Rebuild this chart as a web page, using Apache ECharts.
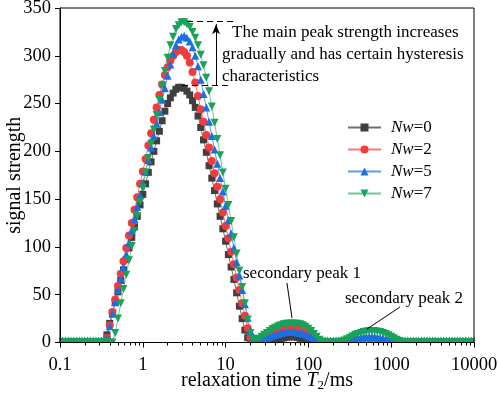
<!DOCTYPE html>
<html><head><meta charset="utf-8">
<script src="https://cdn.jsdelivr.net/npm/echarts@6/dist/echarts.min.js"></script>
<style>html,body{margin:0;padding:0;background:#fff}#c{width:498px;height:394px}</style>
</head><body><div id="c"></div>
<script>
// relaxation time T2 (ms), log-spaced sampling grid
const t2 = [
0.1,0.108,0.1166,0.1259,0.1359,0.1468,0.1585,0.1711,0.1848,0.1995,0.2154,0.2326,0.2512,0.2712,0.2929,0.3162,0.3415,0.3687,0.3981,0.4299,0.4642,0.5012,0.5412,0.5843,0.631,0.6813,0.7356,0.7943,0.8577,0.9261,
1,1.08,1.166,1.259,1.359,1.468,1.585,1.711,1.848,1.995,2.154,2.326,2.512,2.712,2.929,3.162,3.415,3.687,3.981,4.299,4.642,5.012,5.412,5.843,6.31,6.813,7.356,7.943,8.577,9.261,
10,10.8,11.66,12.59,13.59,14.68,15.85,17.11,18.48,19.95,21.54,23.26,25.12,27.12,29.29,31.62,34.15,36.87,39.81,42.99,46.42,50.12,54.12,58.43,63.1,68.13,73.56,79.43,85.77,92.61,
100,108,116.6,125.9,135.9,146.8,158.5,171.1,184.8,199.5,215.4,232.6,251.2,271.2,292.9,316.2,341.5,368.7,398.1,429.9,464.2,501.2,541.2,584.3,631,681.3,735.6,794.3,857.7,926.1,
1000,1080,1166,1259,1359,1468,1585,1711,1848,1995,2154,2326,2512,2712,2929,3162,3415,3687,3981,4299,4642,5012,5412,5843,6310,6813,7356,7943,8577,9261,
10000];

const nw0 = [
0,0,0,0,0,0,0,0,0,0, 0,0,0,0,0,0,
1,8,20,31,42,53,65,76,87,99,
110,121,132,144,155,166,178,189,200,211,
221,232,242,250,256,261,265,267,267,266,
263,259,253,246,237,225,212,199,185,172,
159,145,132,119,106,92,79,66,52,38,
25,13,5,1,
0,0,0,0,0,0,0,0,0,
2.3,3.6,4.7,5.5,5.9,6,5.8,5.3,4.4,3.3,1.8,
0,0,0,0,0,0,0,0,0,0, 0,0,0,0,0,0,0,0,0,0, 0,0,0,0,0,0,0,0,0,0,
0,0,0,0,0,0,0,0,0,0, 0,0,0,0,0,0,0,0,0,0, 0,0,0,0,0,0,0,0,0,0, 0];

const nw2 = [
0,0,0,0,0,0,0,0,0,0, 0,0,0,0,0,0,0,
5,18,32,45,59,72,85,99,112,125,
139,152,166,179,192,206,219,233,246,259,
270,280,288,295,300,304,306,306,304,300,
293,283,272,258,244,231,217,204,190,177,
163,150,136,122,109,95,82,68,55,41,
28,15,5,
3,3,3,4,5,7,9,10.5,12,13.5,
14.5,15.5,16,16,16,16,15.5,15,14,12.5,
10.5,8,5.5,3,1,
0,0,0,0,0,0,0,
0.5,1.5,2.5,3,3,3,2.5,1.5,0.5,
0,0,0,0,0,0,0,0,0,0, 0,0,0,0,0,0,0,0,0,0, 0,0,0,0,0,0,0,0,0,0, 0,0,0,0,0,0,0,0,0,0];

const nw5 = [
2,2,2,2,2,2,2,2,2,2, 2,2,2,2,2,2,2,
5,17,30,42,55,67,79,92,104,117,
129,142,154,167,179,191,204,216,229,241,
254,266,279,291,302,311,317,320,321,319,
315,309,300,289,275,260,246,231,216,202,
187,172,158,143,128,114,99,84,70,55,
40,26,12,
5,3,3,3,4,5,6,7,8,9,
10,10.5,11,11,11,11,10.5,10,9.5,8.5,
7,5.5,4,3,2.5,
2,2,2,2,2,2,
2,2,2.5,3,3.5,4,4.5,5,5.5,6,
6,6,6,6,5.5,5,4.5,4,3.5,3,2.5,
2,2,2,2,2,2,2,2,2,2, 2,2,2,2,2,2,2,2,2,2, 2,2,2,2,2,2,2,2,2];

const nw7 = [
0,0,0,0,0,0,0,0,0,0, 0,0,0,0,0,0,0,0,0,0,
10,25,41,56,71,86,101,117,132,147,
162,178,193,208,223,238,254,269,284,298,
311,320,328,332,335,335,333,330,325,319,
311,301,290,277,263,247,230,213,196,178,
161,144,127,110,93,75,58,41,24,10,
4,3,4,6,8,10,12,14,15.5,17,
18,19,19.5,20,20,20,19.5,19,18,16.5,
14.5,12,9,6,3,1,
0,0,0,0,0,
0.5,1,2,3.5,5,6.5,8,9,10,11,
11.5,12,12,12,11.5,11,10,9,7.5,6,
4.5,3,1.5,0.5,
0,0,0,0,0,0,0,0,0,0, 0,0,0,0,0,0,0,0,0,0, 0,0,0,0,0,0];

const seriesNames = ['Nw=0', 'Nw=2', 'Nw=5', 'Nw=7'];
const xTickLabels = ['0.1', '1', '10', '100', '1000', '10000'];
const yTickLabels = ['0', '50', '100', '150', '200', '250', '300', '350'];

const FONT = "'Liberation Serif','Times New Roman',serif";
const pairs = vals => t2.map((t, i) => [t, vals[i]]);

const minorPos = [];
for (let d = -1; d < 4; d++) for (let m = 2; m <= 9; m++) minorPos.push(d + Math.log10(m));

const styles = [
  { symbol: 'rect', size: 7, rot: 0, mk: '#3f3f3f', ln: '#707070' },
  { symbol: 'circle', size: 8, rot: 0, mk: '#f33b3b', ln: '#f47c7c' },
  { symbol: 'triangle', size: 8, rot: 0, mk: '#1b6fe0', ln: '#5c9bea' },
  { symbol: 'triangle', size: 8, rot: 180, mk: '#17a35a', ln: '#6cc898' }
];
const values = [nw0, nw2, nw5, nw7];

const series = seriesNames.map((name, i) => ({
  name, type: 'line', data: pairs(values[i]),
  symbol: styles[i].symbol, symbolSize: styles[i].size, symbolRotate: styles[i].rot,
  showSymbol: true, showAllSymbol: true,
  lineStyle: { color: styles[i].ln, width: 1 },
  itemStyle: { color: styles[i].mk },
  emphasis: { disabled: true },
  animation: false
}));

series[0].markLine = {
  silent: true, animation: false, symbol: ['none', 'none'],
  label: { show: false },
  lineStyle: { color: '#000', width: 1, type: 'solid' },
  itemStyle: { color: '#000' },
  emphasis: { disabled: true },
  data: [
    [{ coord: [3.42, 335.7], lineStyle: { type: [6, 4], color: '#000', width: 1 } }, { coord: [13.0, 335.7] }],
    [{ coord: [2.97, 269.4], lineStyle: { type: [6, 4], color: '#000', width: 1 } }, { coord: [10.7, 269.4] }],
    [{ coord: [7.66, 269.4], symbol: 'none' }, { coord: [7.66, 333], symbol: 'arrow', symbolSize: [6, 10] }],
    [{ coord: [55.1, 62.3] }, { coord: [63.4, 25.6] }],
    [{ coord: [1276, 37.1] }, { coord: [510, 14.1] }]
  ]
};

const txt = (x, y, text) => ({
  type: 'text', x, y, z: 20, silent: true,
  style: { text, fill: '#000', fontSize: 17, fontFamily: FONT, align: 'left', verticalAlign: 'middle' }
});

const option = {
  animation: false,
  backgroundColor: '#fff',
  grid: { left: 60, right: 24, top: 8, bottom: 51.5, containLabel: false, outerBoundsMode: 'none',
          show: true, borderColor: '#000', borderWidth: 1, z: 10 },
  legend: {
    orient: 'vertical', left: 342, top: 114, itemWidth: 33, itemHeight: 10, itemGap: 5,
    data: seriesNames, selectedMode: false,
    formatter: name => '{i|Nw}{n|' + name.slice(2) + '}',
    textStyle: {
      color: '#000', fontFamily: FONT, fontSize: 17,
      rich: {
        i: { fontStyle: 'italic', fontFamily: FONT, fontSize: 17, color: '#000', padding: [0, 0, 0, 5] },
        n: { fontFamily: FONT, fontSize: 17, color: '#000' }
      }
    }
  },
  xAxis: [
    {
      type: 'log', logBase: 10, min: 0.1, max: 10000, z: 10,
      axisLine: { show: true, onZero: false, lineStyle: { color: '#000', width: 1 } },
      axisTick: { show: true, length: 5, inside: false, lineStyle: { color: '#000', width: 1 } },
      axisLabel: {
        color: '#000', fontFamily: FONT, fontSize: 18.5, margin: 13,
        formatter: v => { const i = Math.round(Math.log10(v)) + 1; return xTickLabels[i] ?? ''; }
      },
      splitLine: { show: false },
      name: 'relaxation time {i|T}{s|2}/ms', nameLocation: 'middle', nameGap: 26, nameMoveOverlap: false,
      nameTextStyle: {
        color: '#000', fontFamily: FONT, fontSize: 20, lineHeight: 24,
        rich: {
          i: { fontStyle: 'italic', fontFamily: FONT, fontSize: 20, lineHeight: 24, color: '#000' },
          s: { fontFamily: FONT, fontSize: 13, lineHeight: 14, verticalAlign: 'bottom', color: '#000' }
        }
      }
    },
    {
      type: 'value', min: -1, max: 4, position: 'bottom', z: 10,
      axisLine: { show: false, onZero: false }, axisLabel: { show: false }, splitLine: { show: false },
      axisTick: { show: true, length: 3, inside: false, customValues: minorPos, lineStyle: { color: '#000', width: 1 } }
    }
  ],
  yAxis: {
    type: 'value', min: 0, max: 350, interval: 50, z: 10,
    axisLine: { show: true, onZero: false, lineStyle: { color: '#000', width: 1 } },
    axisTick: { show: true, length: 5, inside: false, lineStyle: { color: '#000', width: 1 } },
    axisLabel: { color: '#000', fontFamily: FONT, fontSize: 18.5, margin: 9,
      formatter: v => yTickLabels[Math.round(v / 50)] ?? '' },
    splitLine: { show: false },
    name: 'signal strength', nameLocation: 'middle', nameGap: 35, nameMoveOverlap: false,
    nameTextStyle: { color: '#000', fontFamily: FONT, fontSize: 20 }
  },
  graphic: [
    { type: 'rect', z: 5, silent: true, shape: { x: 30, y: 343, width: 460, height: 8 }, style: { fill: '#fff' } },
    { type: 'rect', z: 5, silent: true, shape: { x: 46, y: 250, width: 13.5, height: 95 }, style: { fill: '#fff' } },
    { type: 'rect', z: 5, silent: true, shape: { x: 474.6, y: 250, width: 20, height: 95 }, style: { fill: '#fff' } },
    txt(232, 33, 'The main peak strength increases'),
    txt(222, 55, 'gradually and has certain hysteresis'),
    txt(222, 76.5, 'characteristics'),
    txt(243, 274, 'secondary peak 1'),
    txt(345, 299, 'secondary peak 2')
  ],
  series
};

const chart = echarts.init(document.getElementById('c'), null, { renderer: 'canvas' });
chart.setOption(option);
</script>
</body></html>
